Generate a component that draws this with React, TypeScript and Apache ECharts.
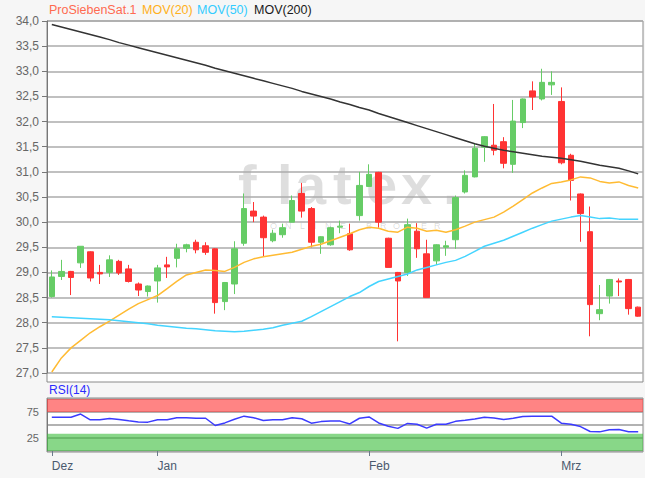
import React, { useEffect, useRef } from "react";
import * as echarts from "echarts";

const dates = [
  "2017-12-13", "2017-12-14", "2017-12-15", "2017-12-18", "2017-12-19", "2017-12-20", "2017-12-21", "2017-12-22", "2017-12-27", "2017-12-28", "2017-12-29",
  "2018-01-02", "2018-01-03", "2018-01-04", "2018-01-05", "2018-01-08", "2018-01-09", "2018-01-10", "2018-01-11", "2018-01-12", "2018-01-15", "2018-01-16",
  "2018-01-17", "2018-01-18", "2018-01-19", "2018-01-22", "2018-01-23", "2018-01-24", "2018-01-25", "2018-01-26", "2018-01-29", "2018-01-30", "2018-01-31",
  "2018-02-01", "2018-02-02", "2018-02-05", "2018-02-06", "2018-02-07", "2018-02-08", "2018-02-09", "2018-02-12", "2018-02-13", "2018-02-14", "2018-02-15",
  "2018-02-16", "2018-02-19", "2018-02-20", "2018-02-21", "2018-02-22", "2018-02-23", "2018-02-26", "2018-02-27", "2018-02-28",
  "2018-03-01", "2018-03-02", "2018-03-05", "2018-03-06", "2018-03-07", "2018-03-08", "2018-03-09", "2018-03-12", "2018-03-13",
];

const monthNames = ["Jan", "Feb", "Mrz", "Apr", "Mai", "Jun", "Jul", "Aug", "Sep", "Okt", "Nov", "Dez"];

const opens = [
  28.52, 28.92, 29.02, 29.19, 29.41, 29.0, 29.0, 29.22, 29.07, 28.77, 28.62,
  28.83, 29.15, 29.28, 29.48, 29.6, 29.53, 29.47, 28.42, 28.77, 29.58, 30.22,
  30.1, 29.63, 29.75, 30.0, 30.57, 30.27, 29.6, 29.55, 29.9, 29.77, 30.13,
  30.71, 30.99, 29.68, 29.0, 29.0, 29.82, 29.37, 29.23, 29.5, 29.65, 30.6,
  30.9, 31.49, 31.53, 31.6, 31.15, 31.98, 32.61, 32.45, 32.73,
  32.4, 31.33, 30.56, 29.81, 28.18, 28.53, 28.83, 28.86, 28.31,
];
const closes = [
  28.91, 29.02, 28.9, 29.52, 28.89, 28.97, 29.25, 28.99, 28.82, 28.65, 28.73,
  29.09, 29.11, 29.47, 29.55, 29.45, 29.4, 28.4, 28.8, 29.47, 30.27, 30.12,
  29.69, 29.78, 29.89, 30.43, 30.22, 29.6, 29.71, 29.89, 29.92, 29.45, 30.73,
  30.95, 30.0, 29.1, 28.83, 29.95, 29.47, 28.5, 29.55, 29.53, 30.49, 30.93,
  31.47, 31.7, 31.43, 31.17, 32.01, 32.45, 32.49, 32.78, 32.78,
  31.18, 30.83, 30.17, 28.36, 28.26, 28.86, 28.81, 28.28, 28.13,
];
const lows = [
  28.5, 28.85, 28.55, 29.09, 28.82, 28.77, 28.91, 28.95, 28.8, 28.53, 28.52,
  28.4, 28.89, 29.1, 29.4, 29.38, 29.35, 28.18, 28.25, 28.57, 29.53, 30.0,
  29.31, 29.6, 29.69, 30.0, 30.09, 29.5, 29.37, 29.53, 29.78, 29.43, 30.03,
  30.7, 29.89, 29.1, 27.63, 28.93, 29.29, 28.5, 29.15, 29.33, 29.47, 30.57,
  30.89, 31.2, 31.33, 31.07, 30.98, 31.87, 32.23, 32.42, 32.53,
  31.15, 30.43, 29.61, 27.73, 28.05, 28.38, 28.53, 28.16, 28.12,
];
const highs = [
  29.04, 29.25, 29.03, 29.52, 29.42, 29.15, 29.34, 29.25, 29.15, 28.8, 28.74,
  29.15, 29.31, 29.57, 29.57, 29.65, 29.6, 29.48, 28.81, 29.62, 30.57, 30.4,
  30.13, 29.85, 29.97, 30.53, 30.78, 30.3, 29.72, 29.91, 30.03, 29.97, 31.0,
  31.15, 31.0, 29.69, 29.01, 30.07, 29.98, 29.65, 29.56, 29.63, 30.53, 31.03,
  31.57, 31.71, 32.35, 31.69, 32.43, 32.46, 32.8, 33.05, 33.0,
  32.68, 31.36, 30.57, 30.31, 28.75, 28.87, 28.88, 28.87, 28.32,
];

const mov20 = [
  27.02, 27.3, 27.5, 27.65, 27.8, 27.92, 28.03, 28.15, 28.27, 28.38, 28.46,
  28.54, 28.68, 28.82, 28.95, 29.0, 29.05, 29.04, 29.02, 29.1, 29.2, 29.27,
  29.31, 29.34, 29.37, 29.4, 29.46, 29.52, 29.56, 29.63, 29.7, 29.77, 29.85,
  29.9, 29.88, 29.82, 29.8, 29.9, 29.88, 29.82, 29.84, 29.8, 29.85, 29.92,
  30.0, 30.05, 30.1, 30.2, 30.32, 30.45, 30.58, 30.68, 30.77,
  30.8, 30.84, 30.9, 30.88, 30.81, 30.78, 30.8, 30.73, 30.68,
];
const mov50 = [
  28.12, 28.11, 28.1, 28.09, 28.08, 28.07, 28.06, 28.04, 28.02, 28.0, 27.98,
  27.95, 27.93, 27.91, 27.89, 27.88, 27.86, 27.84, 27.83, 27.82, 27.83, 27.85,
  27.87, 27.9, 27.95, 27.99, 28.03, 28.12, 28.22, 28.32, 28.42, 28.52, 28.6,
  28.72, 28.82, 28.87, 28.92, 28.97, 29.05, 29.1, 29.15, 29.2, 29.24, 29.32,
  29.42, 29.52, 29.58, 29.64, 29.72, 29.8, 29.88, 29.95, 30.02,
  30.06, 30.1, 30.13, 30.1, 30.07, 30.08, 30.06, 30.06, 30.06,
];
const mov200 = [
  33.93, 33.88, 33.83, 33.78, 33.73, 33.68, 33.63, 33.57, 33.52, 33.47, 33.42,
  33.37, 33.32, 33.27, 33.22, 33.17, 33.12, 33.06, 33.01, 32.96, 32.91, 32.86,
  32.81, 32.76, 32.71, 32.66, 32.6, 32.55, 32.5, 32.45, 32.39, 32.34, 32.28,
  32.23, 32.16, 32.1, 32.04, 31.98, 31.92, 31.86, 31.8, 31.74, 31.68, 31.62,
  31.56, 31.51, 31.47, 31.43, 31.4, 31.37, 31.34, 31.31, 31.29,
  31.27, 31.24, 31.21, 31.17, 31.13, 31.1, 31.07, 31.02, 30.96,
];
const rsi14 = [
  65, 65, 65, 71, 60, 60, 62.5, 60.5, 58, 56, 55.5,
  60, 60, 64, 64, 63, 63, 49, 54, 61, 67, 64,
  58.5, 60, 60, 64, 62, 53.5, 56.5, 57.5, 57.5, 52, 63,
  65.5, 54, 47.5, 43.5, 53, 51.5, 44, 51.5, 51.5, 57, 59,
  61.5, 65, 63.5, 60.5, 63, 66.5, 67, 67, 67,
  53.5, 51.5, 47, 37.5, 36.8, 41, 41.5, 37, 36.8,
];

const priceTicks = [27, 34, 0.5];
const rsiTicks = [0, 100, 25];
const rsiLabels = [75, 25];
const rsiBands = [[75, 100], [0, 33]];

const FONT = "'Liberation Sans', Arial, sans-serif";

function isMonthStart(idx: number): boolean {
  if (idx === 0) return true;
  return dates[idx].slice(5, 7) !== dates[idx - 1].slice(5, 7);
}

function monthLabel(value: string): string {
  const m = parseInt(value.slice(5, 7), 10);
  return monthNames[m - 1];
}

export default function App() {
  const ref = useRef<HTMLDivElement>(null);

  useEffect(() => {
    if (!ref.current) return;
    const chart = echarts.init(ref.current, null, { renderer: "svg" });

    const candleData = dates.map((_, i) => [opens[i], closes[i], lows[i], highs[i]]);

    const wm = "rgba(0,0,0,0.13)";
    const wmLetters: [string, number][] = [
      ["f", 238], ["l", 277], ["a", 295], ["t", 333], ["e", 366], ["x", 401], [".", 443],
    ];
    const subLetters: [string, number][] = [
      ["O", 270], ["N", 285], ["L", 300], ["I", 314], ["N", 325], ["E", 340],
      ["B", 366], ["R", 380], ["O", 393], ["K", 407], ["E", 421], ["R", 434],
    ];

    const option: any = {
      animation: false,
      textStyle: { fontFamily: FONT },
      graphic: [
        {
          type: "rect",
          z: -10,
          silent: true,
          shape: { x: 47, y: 21, width: 596, height: 361 },
          style: { fill: "#ffffff", stroke: "#8a8a8a", lineWidth: 1 },
        },
        {
          type: "rect",
          z: -10,
          silent: true,
          shape: { x: 47, y: 398, width: 596, height: 54 },
          style: { fill: "#ffffff", stroke: "#8a8a8a", lineWidth: 1 },
        },
        ...wmLetters.map(([ch, x]) => ({
          type: "text",
          z: -5,
          silent: true,
          x,
          y: 156,
          style: { text: ch, fill: wm, font: `bold 56px ${FONT}` },
        })),
        ...subLetters.map(([ch, x]) => ({
          type: "text",
          z: -5,
          silent: true,
          x,
          y: 221,
          style: { text: ch, fill: "rgba(0,0,0,0.16)", font: `9px ${FONT}` },
        })),
        { type: "text", x: 49, y: 3, style: { text: "ProSiebenSat.1", fill: "#ff6a50", font: `12.5px ${FONT}` } },
        { type: "text", x: 142, y: 3, style: { text: "MOV(20)", fill: "#ffb020", font: `12.5px ${FONT}` } },
        { type: "text", x: 197, y: 3, style: { text: "MOV(50)", fill: "#33ccff", font: `12.5px ${FONT}` } },
        { type: "text", x: 254, y: 3, style: { text: "MOV(200)", fill: "#1a1a1a", font: `12.5px ${FONT}` } },
        { type: "text", x: 49, y: 384, style: { text: "RSI(14)", fill: "#2b2bff", font: `12px ${FONT}` } },
      ],
      grid: [
        { left: 47, right: 2, top: 21, height: 352 },
        { left: 47, right: 2, top: 399, height: 52 },
      ],
      xAxis: [
        {
          type: "category",
          gridIndex: 0,
          data: dates,
          boundaryGap: true,
          axisLine: { show: false },
          axisTick: { show: false },
          axisLabel: { show: false },
          splitLine: { show: false },
        },
        {
          type: "category",
          gridIndex: 1,
          data: dates,
          boundaryGap: true,
          axisLine: { show: false },
          axisTick: {
            show: true,
            alignWithLabel: true,
            length: 5,
            interval: (idx: number) => isMonthStart(idx),
            lineStyle: { color: "#6a7a8a" },
          },
          axisLabel: {
            show: true,
            interval: (idx: number) => isMonthStart(idx),
            formatter: (v: string) => monthLabel(v),
            align: "left",
            margin: 9,
            color: "#4a5a6e",
            fontSize: 12,
            fontFamily: FONT,
          },
          splitLine: { show: false },
        },
      ],
      yAxis: [
        {
          type: "value",
          gridIndex: 0,
          min: priceTicks[0],
          max: priceTicks[1],
          interval: priceTicks[2],
          axisLine: { show: true, lineStyle: { color: "#777" } },
          axisTick: { show: true, length: 5, lineStyle: { color: "#777" } },
          axisLabel: {
            color: "#666",
            fontSize: 12,
            margin: 8,
            fontFamily: FONT,
            formatter: (v: number) => v.toFixed(1).replace(".", ","),
          },
          splitLine: { show: true, lineStyle: { color: "#ababab", width: 1.5 } },
        },
        {
          type: "value",
          gridIndex: 1,
          min: rsiTicks[0],
          max: rsiTicks[1],
          interval: rsiTicks[2],
          axisLine: { show: true, lineStyle: { color: "#777" } },
          axisTick: { show: false },
          axisLabel: {
            color: "#666",
            fontSize: 11,
            margin: 8,
            fontFamily: FONT,
            formatter: (v: number) => (rsiLabels.indexOf(v) >= 0 ? String(v) : ""),
          },
          splitLine: { show: true, lineStyle: { color: "#999", width: 1.5 } },
        },
      ],
      series: [
        {
          name: "ProSiebenSat.1",
          type: "candlestick",
          xAxisIndex: 0,
          yAxisIndex: 0,
          data: candleData,
          barWidth: 6,
          z: 2,
          itemStyle: {
            color: "#66cc66",
            color0: "#ff3333",
            borderColor: "#66cc66",
            borderColor0: "#ff3333",
            borderWidth: 1,
          },
        },
        {
          name: "MOV(20)",
          type: "line",
          xAxisIndex: 0,
          yAxisIndex: 0,
          data: mov20,
          showSymbol: false,
          z: 4,
          lineStyle: { color: "#ffbb33", width: 1.5 },
        },
        {
          name: "MOV(50)",
          type: "line",
          xAxisIndex: 0,
          yAxisIndex: 0,
          data: mov50,
          showSymbol: false,
          z: 4,
          lineStyle: { color: "#44d4ff", width: 1.5 },
        },
        {
          name: "MOV(200)",
          type: "line",
          xAxisIndex: 0,
          yAxisIndex: 0,
          data: mov200,
          showSymbol: false,
          z: 4,
          lineStyle: { color: "#333333", width: 1.5 },
        },
        {
          name: "RSI(14)",
          type: "line",
          xAxisIndex: 1,
          yAxisIndex: 1,
          data: rsi14,
          showSymbol: false,
          z: 4,
          lineStyle: { color: "#3b3bff", width: 1.5 },
          markArea: {
            silent: true,
            data: [
              [
                { yAxis: rsiBands[0][0], itemStyle: { color: "rgba(255,60,60,0.63)" } },
                { yAxis: rsiBands[0][1] },
              ],
              [
                { yAxis: rsiBands[1][0], itemStyle: { color: "rgba(60,190,60,0.61)" } },
                { yAxis: rsiBands[1][1] },
              ],
            ],
          },
        },
      ],
    };

    chart.setOption(option);
    return () => chart.dispose();
  }, []);

  return (
    <div style={{ position: "fixed", left: 0, top: 0, width: 645, height: 478, background: "#f6f6f6" }}>
      <div ref={ref} style={{ width: 645, height: 478 }} />
    </div>
  );
}
